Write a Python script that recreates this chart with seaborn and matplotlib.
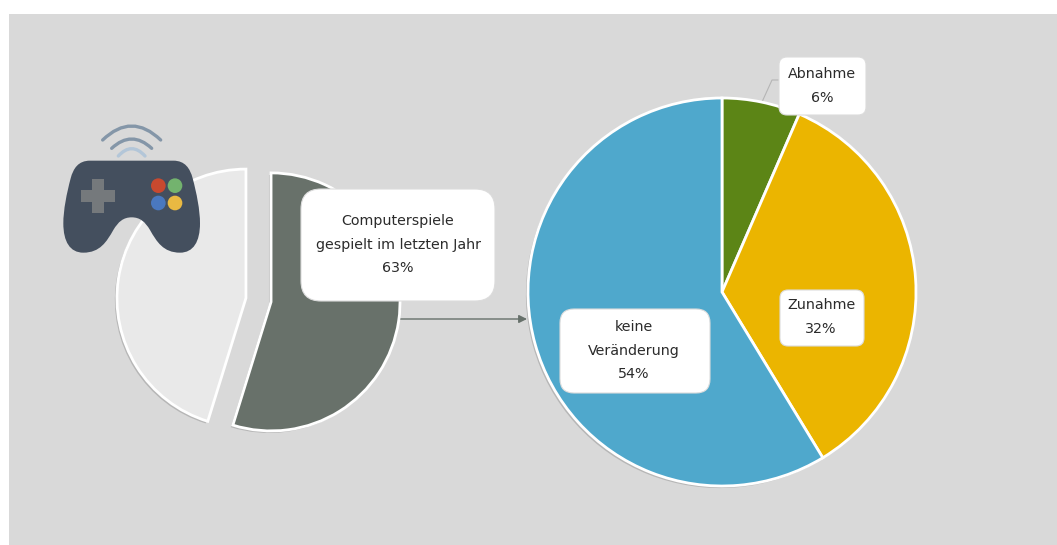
import seaborn as sns
import matplotlib.pyplot as plt
import matplotlib.patheffects as pe
from matplotlib.patches import Rectangle, FancyBboxPatch, Circle, PathPatch
from matplotlib.path import Path

# data
left_values = [63, 52]
left_colors = ['#68716a', '#e9e9e9']
left_label = 'Computerspiele\ngespielt im letzten Jahr\n63%'

right_names = ['Abnahme', 'Zunahme', 'keine\nVeränderung']
right_values = [6, 32, 54]
right_colors = ['#5c8516', '#ebb500', '#4fa8cc']

W, H = 1057, 545
BG = '#d9d9d9'

sns.set_theme(style='white')
plt.rcParams['font.family'] = ['DejaVu Sans']

fig, ax = plt.subplots(figsize=(W / 100, H / 100), dpi=100)
ax.set_position([0, 0, 1, 1])


def Y(py):
    # pixel rows of the reference run downwards
    return H - py


def pie(values, colors, center, radius, explode=None):
    wedges, _ = ax.pie(values, colors=colors, center=center, radius=radius,
                       explode=explode, startangle=90, counterclock=False,
                       wedgeprops={'edgecolor': 'white', 'linewidth': 2},
                       frame=True)
    for w in wedges:
        w.set_zorder(2)
        w.set_path_effects([pe.SimplePatchShadow(offset=(-1.5, -1.5), alpha=0.35,
                                                 shadow_rgbFace='#777777'),
                            pe.Normal()])


def label(text, x0, y0, x1, y1, r, cx=None, cy=None, gap=23.7):
    box = FancyBboxPatch((x0 + r, Y(y1) + r), x1 - x0 - 2 * r, y1 - y0 - 2 * r,
                         boxstyle=f'round,pad={r},rounding_size={r}',
                         fc='white', ec='#dcdcdc', lw=0.8, zorder=5)
    ax.add_patch(box)
    for i, line in enumerate(text.split('\n')):
        ax.text(cx, Y(cy + i * gap), line, ha='center', va='center', fontsize=10.3,
                color='#2b2b2b', zorder=6)


ax.add_patch(Rectangle((9, 0), W - 9, H - 14, fc=BG, ec='none', zorder=0))

# explode is in the same units as the radius here
pie(left_values, left_colors, (258.5, Y(300)), 129, explode=[12.7, 12.7])
pie(right_values, right_colors, (722, Y(292)), 194)

# arrow between the pies
ax.annotate('', xy=(527, Y(319)), xytext=(400, Y(319)), zorder=1,
            arrowprops=dict(arrowstyle='-|>', color='#66706a', lw=1, mutation_scale=12,
                            shrinkA=0, shrinkB=0))
# connector of Abnahme
ax.plot([762, 772, 780], [Y(102), Y(80), Y(80)], color='#b5b5b5', lw=0.8, zorder=1)

label(left_label, 301, 189, 495, 301, 20, 398, 221)
label(right_names[2] + f'\n{right_values[2]}%', 560, 309, 710, 393, 14, 634, 327)
label(right_names[1] + f'\n{right_values[1]}%', 780, 290, 864, 346, 8, 821, 305)
label(right_names[0] + f'\n{right_values[0]}%', 779, 57, 866, 115, 8, 822, 74)


# gamepad icon, coordinates taken from the 3x crop
def gx(z):
    return 50 + z / 3


def gy(z):
    return Y(110 + z / 3)


def P(x, y):
    return (gx(x), gy(y))


C = Path.CURVE4
verts = [P(120, 152), P(370, 152),
         P(405, 152), P(420, 175), P(428, 205),
         P(440, 250), P(450, 300), P(450, 340),
         P(450, 395), P(430, 428), P(390, 428),
         P(340, 428), P(320, 395), P(300, 360),
         P(285, 335), P(270, 322), P(245, 322),
         P(220, 322), P(205, 335), P(190, 360),
         P(170, 395), P(150, 428), P(100, 428),
         P(60, 428), P(40, 395), P(40, 340),
         P(40, 300), P(50, 250), P(62, 205),
         P(70, 175), P(85, 152), P(120, 152)]
codes = [Path.MOVETO, Path.LINETO] + [C] * 30
ax.add_patch(PathPatch(Path(verts, codes), fc='#444f5e', ec='none', zorder=3))

for x0, y0, x1, y1 in [(125, 207, 162, 308), (92, 240, 195, 277)]:
    ax.add_patch(Rectangle(P(x0, y1), (x1 - x0) / 3, (y1 - y0) / 3, fc='#75797c', ec='none', zorder=4))

for x, y, c in [(325, 227, '#c8492f'), (375, 227, '#73b36e'), (325, 279, '#4a78bf'), (375, 279, '#e9b942')]:
    ax.add_patch(Circle(P(x, y), 22 / 3, fc=c, ec='none', zorder=4))

for x0, x1, y_end, peak, c in [(158, 332, 90, 48, '#8496a8'), (185, 305, 115, 87, '#8496a8'),
                               (205, 285, 138, 116, '#b3c6d8')]:
    arc = Path([P(x0, y_end), P((x0 + x1) / 2, 2 * peak - y_end), P(x1, y_end)],
               [Path.MOVETO, Path.CURVE3, Path.CURVE3])
    ax.add_patch(PathPatch(arc, fc='none', ec=c, lw=2.4, capstyle='round', zorder=3))

ax.set_xlim(0, W)
ax.set_ylim(0, H)
ax.set_aspect('equal')
ax.set_xticks([])
ax.set_yticks([])
sns.despine(ax=ax, left=True, bottom=True)

fig.savefig('out.png', dpi=100, facecolor='white')
